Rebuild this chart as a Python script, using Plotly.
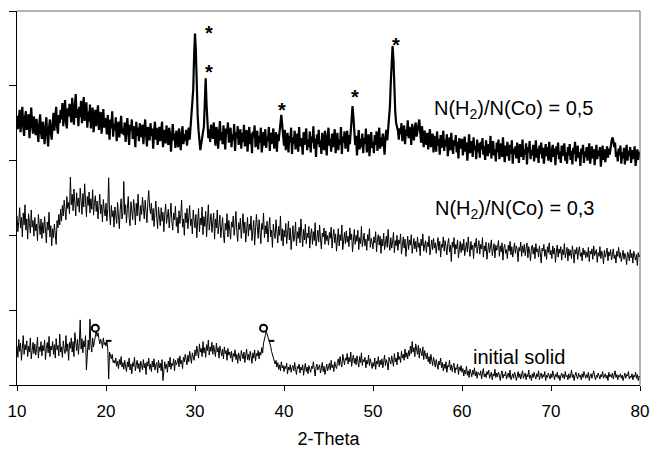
import numpy as np
import plotly.graph_objects as go

# 2-Theta grid: 10.0 .. 80.0, step 0.1 (701 points)
two_theta = np.round(np.arange(701) * 0.1 + 10.0, 1)

# Intensities (arbitrary units, curves offset for stacking)
ratio_05 = [
    360, 342, 355, 368, 338, 351, 372, 345, 333, 358,
    366, 341, 349, 362, 330, 354, 371, 347, 336, 359,
    350, 334, 356, 341, 325, 348, 362, 337, 329, 352,
    339, 322, 346, 358, 333, 319, 344, 355, 338, 328,
    349, 364, 340, 357, 372, 345, 336, 361, 350, 368,
    355, 377, 346, 362, 381, 352, 343, 370, 359, 376,
    364, 351, 384, 366, 348, 374, 389, 357, 369, 346,
    372, 358, 380, 350, 367, 385, 353, 362, 378, 344,
    366, 352, 375, 343, 360, 371, 338, 357, 368, 346,
    359, 374, 341, 354, 365, 336, 351, 369, 344, 357,
    350, 335, 361, 347, 328, 355, 343, 366, 332, 349,
    340, 358, 326, 345, 352, 331, 347, 360, 336, 343,
    334, 351, 325, 344, 357, 338, 321, 348, 340, 355,
    329, 346, 337, 318, 352, 333, 344, 326, 350, 339,
    331, 348, 322, 341, 355, 336, 319, 345, 338, 327,
    350, 333, 343, 316, 339, 352, 328, 344, 321, 337,
    345, 326, 339, 352, 318, 334, 341, 323, 347, 330,
    321, 344, 335, 312, 338, 349, 327, 336, 317, 340,
    332, 318, 343, 329, 314, 337, 346, 322, 335, 326,
    341, 320, 333, 344, 328, 345, 355, 370, 395, 440,
    470, 445, 395, 360, 340, 325, 314, 322, 335, 338,
    345, 372, 410, 375, 340, 330, 342, 325, 348, 336,
    329, 351, 334, 320, 345, 339, 316, 342, 353, 327,
    338, 322, 347, 331, 315, 343, 336, 351, 324, 332,
    344, 318, 335, 327, 349, 313, 338, 330, 346, 321,
    333, 342, 316, 337, 325, 348, 319, 334, 341, 312,
    328, 345, 322, 336, 310, 339, 331, 347, 318, 326,
    340, 315, 333, 324, 344, 311, 329, 338, 320, 342,
    317, 332, 326, 345, 313, 337, 322, 330, 343, 316,
    329, 338, 312, 335, 326, 335, 350, 361, 348, 333,
    320, 341, 314, 328, 337, 311, 333, 324, 344, 309,
    331, 322, 340, 315, 327, 336, 312, 345, 319, 330,
    325, 308, 338, 321, 333, 343, 314, 328, 318, 339,
    311, 332, 324, 346, 316, 329, 305, 335, 322, 341,
    318, 327, 309, 337, 323, 314, 340, 326, 307, 333,
    344, 320, 329, 312, 336, 318, 331, 342, 310, 325,
    337, 314, 328, 321, 345, 309, 332, 324, 339, 316,
    327, 340, 312, 334, 322, 340, 360, 373, 358, 338,
    321, 333, 307, 326, 341, 315, 329, 318, 336, 310,
    330, 322, 343, 311, 327, 335, 306, 324, 338, 317,
    325, 310, 334, 321, 339, 313, 328, 344, 316, 331,
    319, 336, 323, 308, 332, 341, 327, 340, 352, 372,
    405, 440, 453, 435, 395, 365, 350, 345, 340, 328,
    343, 335, 350, 326, 339, 347, 322, 341, 333, 354,
    330, 345, 338, 321, 349, 336, 327, 344, 351, 332,
    342, 348, 355, 339, 324, 346, 333, 318, 340, 329,
    321, 337, 315, 330, 342, 318, 327, 336, 311, 333,
    324, 312, 339, 320, 329, 308, 334, 317, 326, 340,
    313, 328, 319, 335, 306, 322, 331, 314, 337, 318,
    309, 327, 320, 334, 311, 325, 303, 330, 316, 323,
    329, 307, 318, 332, 312, 324, 300, 321, 335, 310,
    317, 326, 305, 331, 314, 320, 302, 328, 311, 323,
    304, 325, 315, 330, 308, 319, 301, 327, 313, 306,
    322, 310, 333, 303, 318, 326, 307, 315, 299, 324,
    311, 328, 302, 317, 323, 305, 331, 312, 298, 320,
    306, 325, 314, 300, 321, 309, 327, 296, 316, 308,
    319, 303, 324, 310, 297, 322, 313, 305, 328, 301,
    315, 308, 323, 295, 318, 311, 326, 302, 314, 307,
    321, 299, 312, 327, 304, 316, 297, 320, 309, 324,
    303, 317, 296, 313, 322, 306, 318, 300, 325, 310,
    298, 314, 321, 305, 316, 294, 319, 308, 324, 302,
    312, 297, 320, 306, 315, 323, 300, 311, 296, 318,
    307, 322, 301, 313, 295, 317, 309, 325, 299, 314,
    320, 304, 311, 293, 316, 308, 321, 297, 312, 305,
    318, 300, 314, 323, 296, 310, 319, 303, 315, 294,
    309, 321, 302, 313, 306, 318, 292, 311, 320, 301,
    315, 298, 310, 319, 304, 316, 308, 322, 326, 331,
    327, 318, 324, 305, 312, 299, 316, 307, 320, 296,
    311, 303, 317, 295, 309, 321, 300, 313, 306, 318,
    297, 314, 302, 310, 319, 293, 308, 315, 301, 312,
    305,
]

ratio_03 = [
    226, 205, 219, 237, 210, 224, 198, 230, 214, 241,
    207, 222, 195, 229, 216, 203, 234, 211, 220, 199,
    224, 206, 215, 193, 228, 210, 201, 222, 196, 217,
    203, 225, 212, 190, 218, 207, 231, 198, 213, 186,
    209, 197, 215, 204, 188, 220, 210, 228, 214, 235,
    219, 240, 226, 247, 230, 221, 252, 236, 244, 229,
    278, 241, 255, 233, 262, 247, 226, 257, 239, 250,
    231, 263, 244, 228, 256, 238, 269, 247, 225, 252,
    240, 258, 230, 249, 235, 261, 227, 244, 253, 232,
    246, 222, 238, 255, 229, 241, 218, 248, 234, 226,
    243, 219, 236, 277, 228, 214, 240, 225, 233, 211,
    238, 226, 216, 244, 230, 209, 235, 249, 222, 231,
    272, 228, 241, 217, 236, 252, 224, 213, 245, 233,
    221, 248, 237, 214, 243, 226, 255, 232, 219, 240,
    228, 251, 236, 222, 247, 233, 217, 244, 260, 238,
    229, 243, 220, 236, 212, 231, 246, 224, 209, 238,
    226, 213, 237, 219, 231, 205, 228, 242, 216, 224,
    235, 210, 225, 243, 218, 207, 230, 221, 239, 212,
    224, 203, 233, 216, 228, 247, 211, 222, 200, 230,
    217, 236, 209, 225, 240, 213, 222, 202, 234, 219,
    210, 228, 197, 219, 236, 205, 223, 214, 238, 201,
    225, 212, 232, 198, 220, 241, 207, 216, 229, 204,
    218, 230, 195, 222, 210, 234, 202, 219, 227, 197,
    213, 224, 201, 190, 216, 207, 229, 198, 220, 209,
    195, 218, 211, 226, 200, 214, 232, 204, 192, 217,
    208, 223, 196, 212, 229, 203, 218, 191, 210, 224,
    199, 215, 207, 226, 193, 211, 220, 187, 205, 228,
    212, 196, 221, 204, 189, 216, 208, 230, 197, 213,
    202, 219, 191, 210, 224, 198, 207, 184, 215, 203,
    196, 221, 205, 190, 212, 200, 226, 193, 209, 186,
    207, 198, 216, 189, 203, 219, 194, 210, 181, 204,
    213, 192, 200, 218, 186, 205, 196, 211, 190, 222,
    199, 185, 208, 194, 215, 189, 203, 197, 212, 183,
    201, 209, 188, 205, 193, 217, 186, 199, 207, 191,
    214, 195, 182, 203, 198, 210, 188, 206, 193, 200,
    187, 204, 196, 211, 183, 199, 208, 190, 202, 179,
    197, 209, 186, 201, 193, 214, 181, 196, 204, 189,
    206, 191, 199, 185, 210, 194, 202, 178, 195, 208,
    188, 200, 192, 207, 181, 197, 189, 212, 185, 198,
    203, 186, 195, 180, 201, 193, 209, 184, 196, 190,
    182, 198, 190, 205, 178, 194, 201, 187, 199, 176,
    195, 186, 203, 181, 192, 199, 184, 208, 189, 180,
    197, 183, 191, 204, 177, 193, 186, 200, 180, 194,
    189, 202, 175, 190, 198, 183, 195, 172, 188, 199,
    181, 194, 187, 201, 176, 189, 196, 182, 192, 178,
    198, 184, 190, 173, 195, 186, 202, 179, 188, 193,
    177, 191, 185, 199, 174, 187, 194, 181, 196, 183,
    190, 176, 186, 197, 180, 192, 171, 188, 184, 198,
    179, 193, 185, 174, 189, 196, 178, 187, 165, 191,
    184, 197, 175, 188, 182, 194, 170, 186, 192, 177,
    189, 180, 195, 173, 186, 191, 178, 198, 183, 172,
    192, 181, 187, 169, 190, 184, 196, 176, 185, 193,
    175, 188, 182, 197, 171, 186, 179, 191, 168, 184,
    190, 177, 185, 194, 173, 182, 189, 170, 187, 180,
    184, 193, 172, 186, 178, 190, 167, 183, 188, 176,
    181, 169, 187, 179, 192, 174, 185, 171, 183, 190,
    176, 186, 181, 165, 184, 179, 191, 172, 186, 177,
    188, 173, 182, 190, 170, 185, 178, 166, 183, 187,
    175, 184, 169, 189, 178, 182, 171, 186, 176, 163,
    183, 179, 188, 172, 181, 168, 185, 177, 190, 174,
    180, 169, 186, 175, 183, 164, 178, 187, 171, 182,
    176, 185, 167, 181, 174, 189, 170, 179, 184, 166,
    182, 173, 180, 169, 186, 177, 163, 181, 175, 184,
    168, 179, 185, 172, 177, 166, 183, 174, 180, 170,
    178, 171, 184, 165, 179, 175, 182, 168, 186, 173,
    176, 181, 164, 177, 172, 185, 169, 179, 174, 162,
    180, 171, 176, 183, 166, 178, 173, 181, 167, 175,
    182, 169, 174, 163, 179, 172, 184, 170, 177, 165,
    173, 180, 168, 176, 171, 161, 178, 174, 166, 181,
    170, 176, 163, 179, 172, 167, 175, 160, 177, 171,
    174,
]

initial_solid = [
    52, 37, 61, 45, 56, 33, 49, 66, 41, 54,
    47, 59, 38, 52, 44, 63, 35, 50, 57, 42,
    55, 40, 48, 64, 36, 51, 45, 58, 39, 53,
    46, 60, 34, 49, 57, 43, 65, 38, 52, 47,
    58, 41, 54, 36, 62, 47, 53, 39, 68, 44,
    51, 37, 59, 48, 42, 66, 45, 55, 33, 57,
    49, 63, 44, 58, 38, 70, 52, 46, 61, 41,
    56, 87, 48, 62, 43, 59, 51, 66, 20, 54,
    60, 47, 88, 55, 44, 63, 51, 58, 67, 72,
    65, 70, 62, 55, 61, 58, 49, 63, 54, 57,
    52, 60, 48, 8, 44, 38, 35, 41, 30, 33,
    29, 36, 25, 32, 22, 34, 27, 38, 24, 30,
    21, 33, 26, 18, 31, 24, 36, 20, 28, 15,
    30, 25, 37, 19, 27, 33, 22, 29, 17, 32,
    26, 20, 34, 23, 29, 14, 31, 25, 36, 21,
    28, 18, 32, 24, 35, 20, 27, 30, 16, 33,
    23, 29, 19, 34, 6, 25, 31, 22, 28, 17,
    32, 24, 37, 21, 29, 26, 35, 19, 33, 27,
    30, 36, 24, 39, 28, 33, 22, 37, 31, 41,
    34, 27, 40, 31, 45, 36, 29, 43, 38, 33,
    47, 39, 52, 41, 36, 55, 44, 49, 38, 58,
    43, 50, 37, 54, 46, 60, 40, 51, 45, 57,
    41, 53, 47, 38, 56, 44, 50, 36, 52, 45,
    39, 48, 35, 51, 42, 46, 33, 49, 40, 44,
    36, 45, 31, 42, 38, 47, 34, 41, 29, 43,
    37, 32, 46, 39, 35, 44, 30, 40, 48, 34,
    41, 33, 45, 38, 29, 43, 36, 47, 32, 42,
    39, 46, 35, 44, 40, 50, 43, 56, 60, 66,
    72, 68, 65, 60, 55, 52, 45, 41, 37, 32,
    28, 33, 24, 30, 21, 27, 19, 31, 23, 26,
    18, 25, 22, 29, 15, 24, 20, 27, 17, 23,
    26, 19, 30, 21, 14, 25, 22, 28, 16, 24,
    20, 27, 13, 23, 29, 18, 24, 15, 26, 21,
    17, 25, 22, 31, 19, 12, 24, 28, 20, 23,
    27, 16, 22, 30, 18, 25, 14, 21, 28, 19,
    24, 29, 20, 33, 23, 27, 18, 31, 25, 22,
    30, 35, 26, 38, 29, 24, 41, 32, 27, 36,
    33, 42, 28, 37, 31, 44, 25, 35, 40, 29,
    36, 27, 39, 32, 24, 38, 30, 43, 26, 34,
    31, 37, 23, 33, 28, 40, 26, 35, 29, 22,
    30, 25, 36, 21, 32, 28, 38, 24, 33, 27,
    35, 23, 31, 40, 26, 34, 29, 20, 37, 30,
    28, 39, 33, 25, 42, 31, 36, 27, 44, 34,
    38, 30, 45, 36, 41, 33, 48, 37, 43, 35,
    46, 39, 52, 42, 58, 44, 50, 38, 55, 47,
    41, 53, 36, 49, 44, 39, 51, 34, 46, 40,
    35, 43, 31, 38, 28, 41, 33, 26, 37, 30,
    24, 34, 29, 21, 32, 27, 36, 23, 30, 19,
    28, 22, 31, 17, 26, 24, 33, 20, 27, 18,
    25, 29, 16, 23, 21, 28, 14, 24, 19, 26,
    17, 22, 12, 20, 15, 25, 13, 19, 10, 21,
    16, 11, 20, 14, 23, 12, 18, 9, 17, 15,
    13, 19, 8, 16, 22, 11, 15, 10, 18, 14,
    20, 9, 14, 17, 7, 15, 12, 21, 10, 16,
    11, 17, 13, 6, 15, 19, 9, 14, 12, 18,
    8, 13, 16, 10, 20, 7, 12, 15, 9, 17,
    14, 6, 11, 18, 10, 15, 8, 13, 19, 9,
    12, 16, 7, 14, 11, 20, 9, 13, 6, 15,
    10, 17, 12, 8, 15, 11, 19, 7, 13, 16,
    9, 14, 11, 18, 6, 13, 10, 16, 12, 8,
    15, 10, 19, 12, 7, 14, 11, 17, 9, 13,
    6, 12, 16, 10, 14, 8, 18, 11, 13, 7,
    15, 9, 12, 20, 10, 14, 6, 13, 17, 11,
    8, 16, 11, 13, 7, 15, 10, 18, 12, 9,
    14, 10, 17, 6, 12, 15, 9, 13, 19, 11,
    7, 13, 10, 16, 12, 8, 14, 11, 18, 9,
    12, 15, 9, 13, 6, 17, 11, 14, 10, 16,
    8, 12, 19, 10, 14, 7, 13, 11, 15, 9,
    13, 6, 11, 16, 9, 14, 12, 18, 8, 12,
    10, 15, 7, 13, 11, 17, 9, 14, 6, 12,
    10,
]

assert len(ratio_05) == 701, len(ratio_05)
assert len(ratio_03) == 701, len(ratio_03)
assert len(initial_solid) == 701, len(initial_solid)

# Peak markers
star_x = [31.56, 31.56, 39.78, 47.96, 52.57]
star_y = [475, 422, 372, 389, 459]
circle_x = [18.8, 37.7]
circle_y = [76, 76]
dash_x = [20.3, 38.6]
dash_y = [59, 59]

# Curve labels
label_text = ["N(H<sub>2</sub>)/N(Co) = 0,5", "N(H<sub>2</sub>)/N(Co) = 0,3", "initial solid"]
label_x = [65.8, 66.0, 66.4]
label_y = [368, 234, 37]

FONT = "Arial, Liberation Sans, sans-serif"

fig = go.Figure()
fig.add_trace(go.Scatter(x=two_theta, y=ratio_05, mode="lines",
                         line=dict(color="black", width=2.2), showlegend=False))
fig.add_trace(go.Scatter(x=two_theta, y=ratio_03, mode="lines",
                         line=dict(color="black", width=1), showlegend=False))
fig.add_trace(go.Scatter(x=two_theta, y=initial_solid, mode="lines",
                         line=dict(color="black", width=1), showlegend=False))
fig.add_trace(go.Scatter(x=circle_x, y=circle_y, mode="markers",
                         marker=dict(symbol="circle-open", size=7, color="black",
                                     line=dict(width=2, color="black")),
                         showlegend=False))
fig.add_trace(go.Scatter(x=dash_x, y=dash_y, mode="markers",
                         marker=dict(symbol="line-ew", size=4, color="black",
                                     line=dict(width=2, color="black")),
                         showlegend=False))

for sx, sy in zip(star_x, star_y):
    fig.add_annotation(x=sx, y=sy, text="<b>*</b>", showarrow=False,
                       font=dict(family=FONT, size=20, color="black"), yshift=-3)

for t, lx, ly in zip(label_text, label_x, label_y):
    fig.add_annotation(x=lx, y=ly, text=t, showarrow=False,
                       font=dict(family=FONT, size=20, color="black"))

# top and right frame (gray)
fig.add_shape(type="line", xref="paper", yref="paper", x0=0, x1=1, y0=1, y1=1,
              line=dict(color="#666666", width=1))
fig.add_shape(type="line", xref="paper", yref="paper", x0=1, x1=1, y0=0, y1=1,
              line=dict(color="#666666", width=1))

fig.update_layout(
    width=650, height=449,
    margin=dict(l=17, r=10, t=11, b=64),
    paper_bgcolor="white", plot_bgcolor="white",
    font=dict(family=FONT, size=17, color="black"),
    xaxis=dict(range=[10, 80], tick0=10, dtick=10, ticks="outside", ticklen=5,
               tickcolor="black", showline=True, linecolor="black", linewidth=1,
               showgrid=False, zeroline=False, automargin=False,
               ticklabelstandoff=6,
               title=dict(text="2-Theta", font=dict(size=18), standoff=11),
               tickfont=dict(size=17)),
    yaxis=dict(range=[0, 500], tick0=0, dtick=100, ticks="outside", ticklen=7,
               tickcolor="black", showline=True, linecolor="black", linewidth=1,
               showgrid=False, zeroline=False, showticklabels=False,
               automargin=False),
)

fig.write_html("out.html")
